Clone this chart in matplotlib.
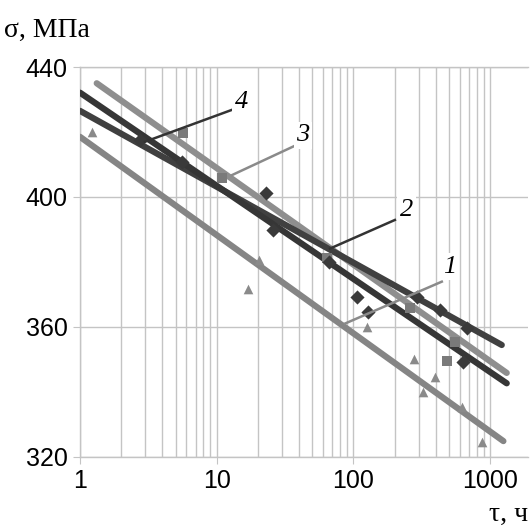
import numpy as np
import matplotlib
matplotlib.use('Agg')
import matplotlib.pyplot as plt
from matplotlib.ticker import LogLocator, FixedLocator, NullFormatter

# fitted lines: (tau start, tau end), (sigma start, sigma end)
line1_t = [1.0, 1250]
line1_s = [418.5, 324.8]
line2_t = [1.0, 1216]
line2_s = [426.5, 354.4]
line3_t = [1.325, 1322]
line3_s = [435.0, 345.8]
line4_t = [1.0, 1322]
line4_s = [432.1, 342.6]

# experimental points
dia_t = [2.75, 5.55, 22.9, 25.7, 66.0, 105.7, 128.5, 290, 430, 637, 674]
dia_s = [417.5, 410.8, 401.1, 389.8, 380.0, 369.2, 364.6, 369.2, 365.1, 349.2, 359.5]
sq_t = [5.7, 10.9, 63.8, 259, 486, 554]
sq_s = [419.8, 405.7, 381.1, 365.7, 349.5, 355.4]
tri_t = [1.22, 17.0, 20.4, 126.4, 277, 325, 395, 620, 868]
tri_s = [420.0, 371.5, 380.5, 359.8, 350.0, 340.0, 344.6, 335.2, 324.6]

# curve labels: text, text pos, leader from, leader to, colour
labels = ['1', '2', '3', '4']
lab_pos = [(509, 378.5), (245, 396.0), (42.8, 419.0), (15.2, 429.3)]
lead_a = [(443, 373.9), (201, 392.9), (40.7, 416.5), (12.9, 426.8)]
lead_b = [(86.8, 361.0), (67.4, 384.1), (12.9, 406.7), (2.99, 417.0)]
lead_c = ['#8a8a8a', '#333333', '#8a8a8a', '#333333']

fig = plt.figure(figsize=(5.31, 5.29), dpi=100)
ax = fig.add_axes([0.1507, 0.1367, 0.8437, 0.7366])
ax.set_xscale('log')
ax.set_xlim(1, 1893)
ax.set_ylim(320, 440)

ax.xaxis.set_major_locator(FixedLocator([1, 10, 100, 1000]))
ax.xaxis.set_major_formatter(matplotlib.ticker.FixedFormatter(['1', '10', '100', '1000']))
ax.xaxis.set_minor_locator(LogLocator(base=10, subs=np.arange(2, 10)))
ax.xaxis.set_minor_formatter(NullFormatter())
ax.set_yticks([320, 360, 400, 440])

gc = '#c4c4c4'
ax.grid(True, which='both', axis='x', color=gc, lw=1)
ax.grid(True, which='major', axis='y', color=gc, lw=1)
ax.tick_params(which='major', length=5, color=gc, labelsize=18, pad=4)
ax.tick_params(which='minor', length=0)
ax.spines['right'].set_visible(False)
for s in ['top', 'left', 'bottom']:
    ax.spines[s].set_color(gc)
    ax.spines[s].set_linewidth(1)
for lbl in ax.get_xticklabels() + ax.get_yticklabels():
    lbl.set_family('Liberation Sans')

ax.plot(line1_t, line1_s, color='#858585', lw=4.5, solid_capstyle='round', zorder=3)
ax.plot(line3_t, line3_s, color='#8e8e8e', lw=4.5, solid_capstyle='round', zorder=3)
ax.plot(line2_t, line2_s, color='#404040', lw=4.5, solid_capstyle='round', zorder=3)
ax.plot(line4_t, line4_s, color='#363636', lw=4.5, solid_capstyle='round', zorder=3)

ax.scatter(tri_t, tri_s, marker='^', s=48, color='#8a8a8a', zorder=4, linewidths=0)
ax.scatter(sq_t, sq_s, marker='s', s=50, color='#7a7a7a', zorder=4, linewidths=0)
ax.scatter(dia_t, dia_s, marker='D', s=52, color='#3a3a3a', zorder=4, linewidths=0)

for t, p, a, b, c in zip(labels, lab_pos, lead_a, lead_b, lead_c):
    ax.plot([a[0], b[0]], [a[1], b[1]], color=c, lw=1.8, zorder=5)
    ax.text(p[0], p[1], t, family='Liberation Serif', style='italic', fontsize=19,
            ha='center', va='center', zorder=6,
            bbox=dict(boxstyle='square,pad=0.1', fc='white', ec='none'))

fig.text(0.008, 0.943, 'σ, МПа', family='Liberation Serif', fontsize=20, ha='left', va='center')
fig.text(0.995, 0.027, 'τ, ч', family='Liberation Serif', fontsize=20, ha='right', va='center')

fig.savefig('out.png', dpi=100)
